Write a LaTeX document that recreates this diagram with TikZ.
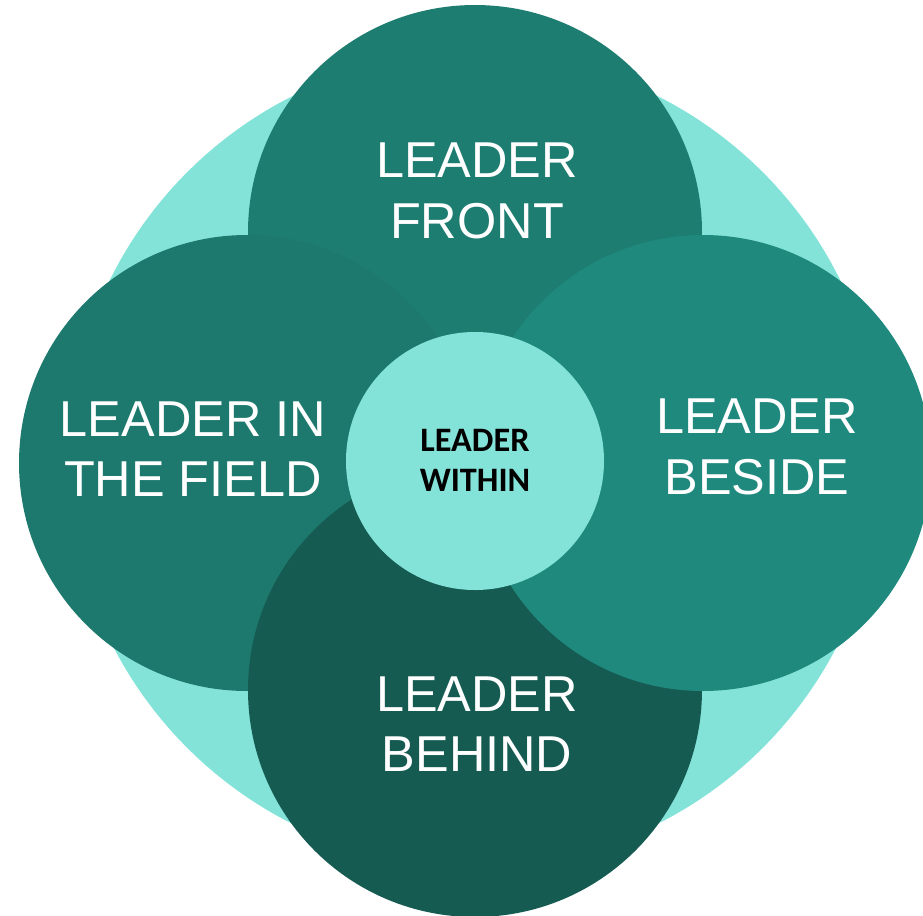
\documentclass[tikz,border=0pt]{standalone}
\usepackage{fontspec}
\setmainfont{Liberation Sans}
\newfontfamily\centrefont{Carlito}
\definecolor{mintbg}{RGB}{131,227,216}
\definecolor{frontcol}{RGB}{30,125,113}
\definecolor{fieldcol}{RGB}{29,121,109}
\definecolor{besidecol}{RGB}{31,137,126}
\definecolor{behindcol}{RGB}{22,91,82}
\tikzset{
  ringlabel/.style={text=white, align=center, font=\fontsize{28.7}{34.3}\selectfont},
  corelabel/.style={text=black, align=center, font=\centrefont\bfseries\fontsize{19.5}{22.8}\selectfont}
}
\begin{document}
\begin{tikzpicture}[x=0.02cm,y=-0.02cm]
                    \useasboundingbox (0,0) rectangle (923,916);
                    \clip (0,0) rectangle (923,916);

                    \fill[mintbg] (475,460) circle (407);

                    \fill[frontcol] (475,232) circle (227);
                    \fill[fieldcol] (247,463) circle (228);
                    \fill[behindcol] (475,690) circle (227);
                    \fill[besidecol] (703,463) circle (228);

                    \fill[mintbg] (475,461) circle (129);

                    \node[ringlabel] (front) at (477,191) {LEADER\\FRONT};
                    \node[ringlabel] (field) at (193,449) {LEADER IN\\THE FIELD};
                    \node[ringlabel] (beside) at (757,447) {LEADER\\BESIDE};
                    \node[ringlabel] (behind) at (477,724) {LEADER\\BEHIND};
                    \node[corelabel] (within) at (475,460) {LEADER\\WITHIN};
                \end{tikzpicture}
\end{document}
